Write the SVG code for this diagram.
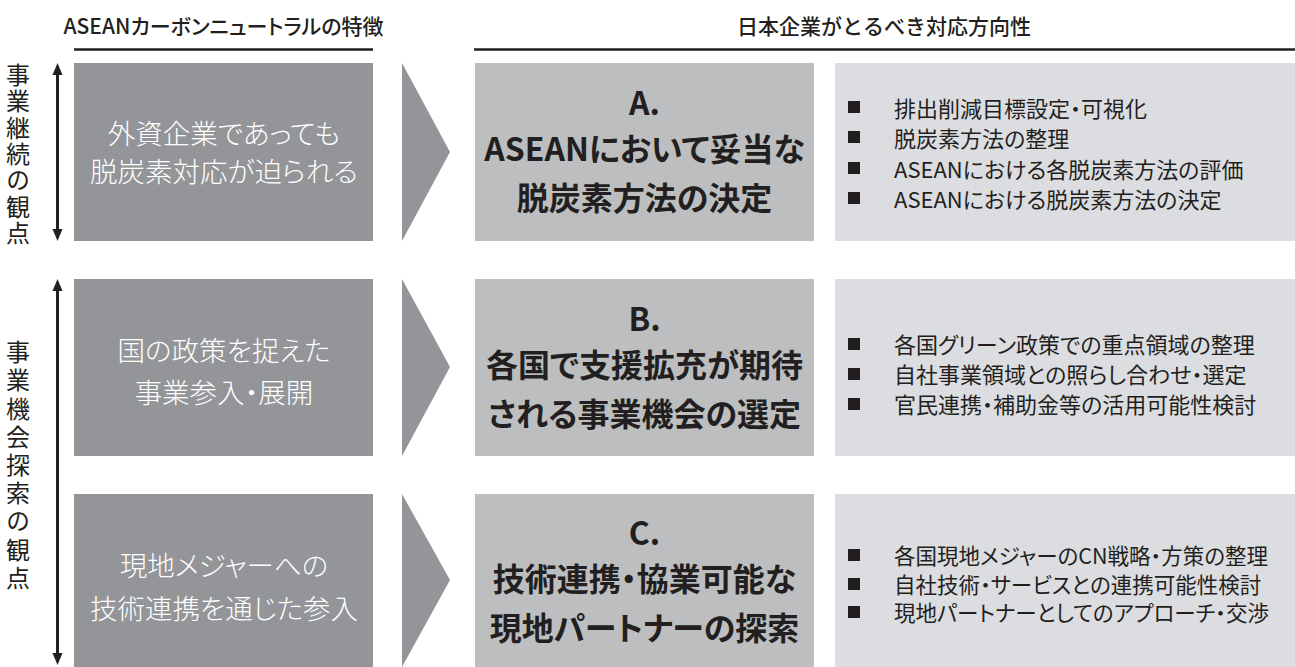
<svg xmlns="http://www.w3.org/2000/svg" width="1295" height="667" viewBox="0 0 1295 667">
  <defs>
    <style>
      .hdr { font-family: "Noto Sans CJK JP", "Noto Sans", sans-serif; font-size: 21px; font-weight: 500; fill: #231f20; text-anchor: middle; }
      .palt { font-feature-settings: "palt"; }
      .vlab { font-family: "Noto Sans CJK JP", "Noto Sans", sans-serif; font-size: 24px; fill: #231f20; writing-mode: vertical-rl; }
      .lbox { fill: #939598; }
      .chev { fill: #939598; }
      .mbox { fill: #bcbec0; }
      .rbox { fill: #dcdde0; }
      .ltxt { font-family: "Noto Sans CJK JP", "Noto Sans", sans-serif; font-size: 27.5px; font-weight: 300; fill: #ffffff; text-anchor: middle; font-feature-settings: "palt"; }
      .mtxt { font-family: "Noto Sans CJK JP", "Noto Sans", sans-serif; font-size: 32px; font-weight: 700; fill: #231f20; text-anchor: middle; font-feature-settings: "palt"; }
      .btxt { font-family: "Noto Sans CJK JP", "Noto Sans", sans-serif; font-size: 22px; fill: #231f20; font-feature-settings: "palt"; }
      .btxt-s { font-size: 21.5px; }
      .bul { fill: #231f20; }
      .rule { stroke: #231f20; stroke-width: 2.5; }
      .vline { stroke: #231f20; stroke-width: 3; }
      .head { fill: #231f20; }
    </style>
  </defs>
  <rect width="1295" height="667" fill="#ffffff"/>

  <g id="header-left">
    <text class="hdr palt" x="223.5" y="34">ASEANカーボンニュートラルの特徴</text>
    <line class="rule" x1="74" y1="49.5" x2="373" y2="49.5"/>
  </g>
  <g id="header-right">
    <text class="hdr" x="884" y="34">日本企業がとるべき対応方向性</text>
    <line class="rule" x1="474" y1="49.5" x2="1295" y2="49.5"/>
  </g>

  <g id="label-continuity">
    <text class="vlab" x="18" y="63" style="letter-spacing:2.3px">事業継続の観点</text>
  </g>
  <g id="label-opportunity">
    <text class="vlab" x="18" y="340" style="letter-spacing:4.2px">事業機会探索の観点</text>
  </g>

  <g id="connectors">
    <line class="vline" x1="57.5" y1="72" x2="57.5" y2="232"/>
    <polygon class="head" points="57.5,63 52.5,75 62.5,75"/>
    <polygon class="head" points="57.5,241 52.5,229 62.5,229"/>
    <line class="vline" x1="57.5" y1="288" x2="57.5" y2="656"/>
    <polygon class="head" points="57.5,279 52.5,291 62.5,291"/>
    <polygon class="head" points="57.5,665 52.5,653 62.5,653"/>
    <polygon class="chev" points="402,63 450,152 402,241"/>
    <polygon class="chev" points="402,279 450,367 402,456"/>
    <polygon class="chev" points="402,494 450,580 402,667"/>
  </g>

  <g id="feature-1">
    <rect class="lbox" x="74" y="63" width="299" height="178"/>
    <text class="ltxt" x="224" y="143.5">外資企業であっても</text>
    <text class="ltxt" x="224" y="181.5">脱炭素対応が迫られる</text>
  </g>
  <g id="feature-2">
    <rect class="lbox" x="74" y="279" width="299" height="177"/>
    <text class="ltxt" x="224" y="361">国の政策を捉えた</text>
    <text class="ltxt" x="224" y="403">事業参入・展開</text>
  </g>
  <g id="feature-3">
    <rect class="lbox" x="74" y="494" width="299" height="173"/>
    <text class="ltxt" x="224" y="576">現地メジャーへの</text>
    <text class="ltxt" x="224" y="619">技術連携を通じた参入</text>
  </g>

  <g id="direction-a">
    <rect class="mbox" x="475" y="63" width="339" height="178"/>
    <text class="mtxt" x="644.5" y="115">A.</text>
    <text class="mtxt" x="644.5" y="161">ASEANにおいて妥当な</text>
    <text class="mtxt" x="644.5" y="210">脱炭素方法の決定</text>
  </g>
  <g id="direction-b">
    <rect class="mbox" x="475" y="279" width="339" height="177"/>
    <text class="mtxt" x="644.5" y="331">B.</text>
    <text class="mtxt" x="644.5" y="377">各国で支援拡充が期待</text>
    <text class="mtxt" x="644.5" y="426">される事業機会の選定</text>
  </g>
  <g id="direction-c">
    <rect class="mbox" x="475" y="494" width="339" height="173"/>
    <text class="mtxt" x="644.5" y="545">C.</text>
    <text class="mtxt" x="644.5" y="591">技術連携・協業可能な</text>
    <text class="mtxt" x="644.5" y="640">現地パートナーの探索</text>
  </g>

  <g id="actions-a">
    <rect class="rbox" x="835" y="63" width="460" height="178"/>
    <rect class="bul" x="848" y="101" width="12" height="12"/>
    <rect class="bul" x="848" y="131" width="12" height="12"/>
    <rect class="bul" x="848" y="162" width="12" height="12"/>
    <rect class="bul" x="848" y="192" width="12" height="12"/>
    <text class="btxt" x="894" y="117">排出削減目標設定・可視化</text>
    <text class="btxt" x="894" y="147">脱炭素方法の整理</text>
    <text class="btxt" x="894" y="178">ASEANにおける各脱炭素方法の評価</text>
    <text class="btxt" x="894" y="208">ASEANにおける脱炭素方法の決定</text>
  </g>
  <g id="actions-b">
    <rect class="rbox" x="835" y="279" width="460" height="177"/>
    <rect class="bul" x="848" y="338" width="12" height="12"/>
    <rect class="bul" x="848" y="368" width="12" height="12"/>
    <rect class="bul" x="848" y="398" width="12" height="12"/>
    <text class="btxt" x="894" y="353">各国グリーン政策での重点領域の整理</text>
    <text class="btxt" x="894" y="383">自社事業領域との照らし合わせ・選定</text>
    <text class="btxt" x="894" y="413">官民連携・補助金等の活用可能性検討</text>
  </g>
  <g id="actions-c">
    <rect class="rbox" x="835" y="494" width="460" height="173"/>
    <rect class="bul" x="848" y="549" width="12" height="12"/>
    <rect class="bul" x="848" y="578" width="12" height="12"/>
    <rect class="bul" x="848" y="606" width="12" height="12"/>
    <text class="btxt btxt-s" x="894" y="564">各国現地メジャーのCN戦略・方策の整理</text>
    <text class="btxt btxt-s" x="894" y="592.5">自社技術・サービスとの連携可能性検討</text>
    <text class="btxt btxt-s" x="894" y="621">現地パートナーとしてのアプローチ・交渉</text>
  </g>
</svg>
